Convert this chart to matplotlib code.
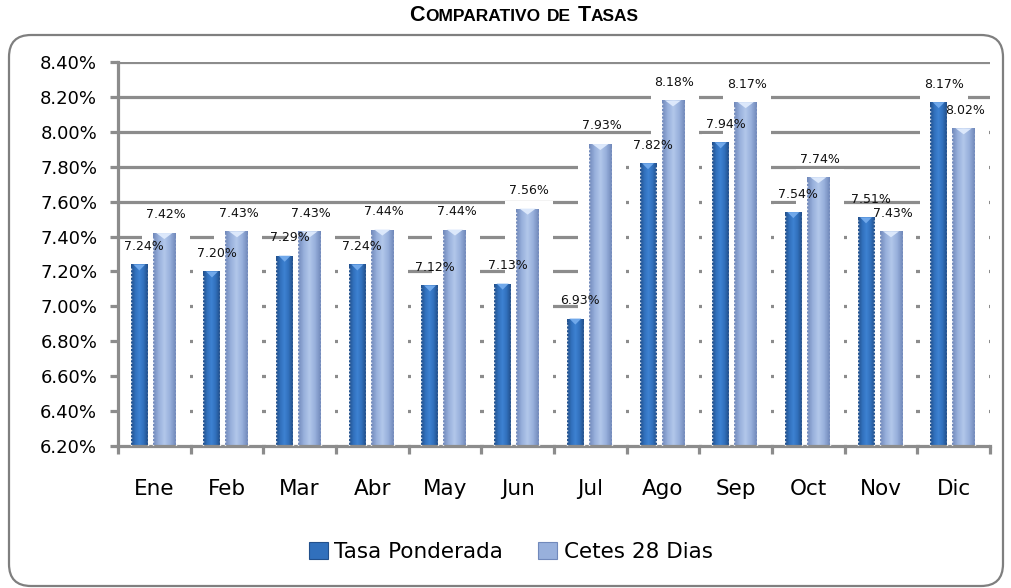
import matplotlib
matplotlib.use("Agg")
import matplotlib.pyplot as plt
import matplotlib.patches as mpatches
import matplotlib.transforms as mtransforms
from matplotlib.colors import LinearSegmentedColormap
import numpy as np

months = ["Ene", "Feb", "Mar", "Abr", "May", "Jun", "Jul", "Ago", "Sep", "Oct", "Nov", "Dic"]
tasa_ponderada = [7.24, 7.20, 7.29, 7.24, 7.12, 7.13, 6.93, 7.82, 7.94, 7.54, 7.51, 8.17]
cetes_28 = [7.42, 7.43, 7.43, 7.44, 7.44, 7.56, 7.93, 8.18, 8.17, 7.74, 7.43, 8.02]
series_names = ["Tasa Ponderada", "Cetes 28 Dias"]
yticks = [6.20, 6.40, 6.60, 6.80, 7.00, 7.20, 7.40, 7.60, 7.80, 8.00, 8.20, 8.40]

W, H, DPI = 1011, 588, 100
fig = plt.figure(figsize=(W / DPI, H / DPI), dpi=DPI)
plt.rcParams['font.family'] = ['DejaVu Sans']

ax_l, ax_r, ax_t, ax_b = 118, 990, 62, 446
ax = fig.add_axes([ax_l / W, 1 - ax_b / H, (ax_r - ax_l) / W, (ax_b - ax_t) / H])
ymin, ymax = 6.20, 8.40
n = len(months)
ax.set_xlim(-0.5, n - 0.5)
ax.set_ylim(ymin, ymax)

pxx = (ax_r - ax_l) / n           # pixels per category
pxy = (ax_b - ax_t) / (ymax - ymin)  # pixels per y unit

grid_col = "#8c8c8c"
ax.set_axisbelow(True)
ax.yaxis.grid(True, color=grid_col, linewidth=2.3, zorder=0)
ax.set_yticks(yticks)
ax.set_yticklabels([f"{v:.2f}%" for v in yticks], fontsize=13)
ax.tick_params(axis='y', length=6, width=2.3, color=grid_col, pad=9, direction='out')
ax.set_xticks(range(n))
ax.set_xticklabels(months, fontsize=15.5)
ax.tick_params(axis='x', which='major', length=0, pad=24)
ax.set_xticks(np.arange(-0.5, n, 1.0), minor=True)
ax.tick_params(axis='x', which='minor', length=6, width=2.3, color=grid_col, direction='out')
for s in ["top", "right"]:
    ax.spines[s].set_visible(False)
for s in ["left", "bottom"]:
    ax.spines[s].set_color(grid_col)
    ax.spines[s].set_linewidth(2.3)

# bar geometry (pixels relative to category centre)
dark_x0, dark_x1 = -23.5 / pxx, -6.5 / pxx
light_x0, light_x1 = -1.5 / pxx, 21.5 / pxx
dark_lab_dx = -10.0 / pxx
light_lab_dx = 11.5 / pxx
lab_w = 48 / pxx
white_top = 8 / pxy
cap_h = 6 / pxy

dark_cols = ["#22508c", "#3170bc", "#3e82d2", "#3170bc", "#22508c"]
light_cols = ["#7189bb", "#98b0dc", "#b2c7ea", "#98b0dc", "#7189bb"]
dark_cap = "#70a8ea"
light_cap = "#dce8fb"

def grad_img(cols, npts=40):
    cm = LinearSegmentedColormap.from_list("g", cols)
    return cm(np.linspace(0, 1, npts))[None, :, :3]

dimg = grad_img(dark_cols)
limg = grad_img(light_cols)

# white backing regions (hide grid lines behind bars and labels)
for i in range(n):
    for val, dx in ((tasa_ponderada[i], dark_lab_dx), (cetes_28[i], light_lab_dx)):
        ax.add_patch(mpatches.Rectangle((i + dx - lab_w / 2, ymin), lab_w, val + white_top - ymin,
                                        facecolor="white", edgecolor="none", zorder=1))

def draw_bar(xc, x0, x1, val, img, capcol):
    rect = mpatches.Rectangle((xc + x0, ymin), x1 - x0, val - ymin, facecolor="none",
                              edgecolor="none", zorder=2)
    ax.add_patch(rect)
    im = ax.imshow(img, extent=(xc + x0, xc + x1, ymin, val), aspect='auto', zorder=2,
                   interpolation='bilinear')
    im.set_clip_path(rect)
    tri = mpatches.Polygon([(xc + x0 + (x1 - x0) * 0.15, val), (xc + x1 - (x1 - x0) * 0.15, val),
                            (xc + (x0 + x1) / 2, val - cap_h)], closed=True,
                           facecolor=capcol, edgecolor="none", zorder=3)
    ax.add_patch(tri)
    for xe in (xc + x0, xc + x1):
        ax.plot([xe, xe], [ymin, val - cap_h * 0.5], color="white", lw=1.0,
                linestyle=(0, (1.2, 1.5)), zorder=3, alpha=0.8)

for i in range(n):
    draw_bar(i, dark_x0, dark_x1, tasa_ponderada[i], dimg, dark_cap)
    draw_bar(i, light_x0, light_x1, cetes_28[i], limg, light_cap)
    ax.annotate(f"{tasa_ponderada[i]:.2f}%", (i + dark_lab_dx, tasa_ponderada[i]),
                xytext=(0, 13), textcoords="offset points", ha="center", va="center",
                fontsize=9, color="#111111", zorder=4)
    ax.annotate(f"{cetes_28[i]:.2f}%", (i + light_lab_dx, cetes_28[i]),
                xytext=(0, 13), textcoords="offset points", ha="center", va="center",
                fontsize=9, color="#111111", zorder=4)

ax.set_xlim(-0.5, n - 0.5)
ax.set_ylim(ymin, ymax)

# legend
h1 = mpatches.Patch(facecolor="#3170bc", edgecolor="#22508c", linewidth=0.8)
h2 = mpatches.Patch(facecolor="#98b0dc", edgecolor="#7189bb", linewidth=0.8)
fig.legend([h1, h2], series_names, loc="center", bbox_to_anchor=(0.505, 1 - 552 / H),
           ncol=2, frameon=False, fontsize=15.5, handlelength=0.9, handleheight=0.85,
           handletextpad=0.3, columnspacing=1.6)

# rounded outer frame (pixel coordinates)
frame = mpatches.FancyBboxPatch((9, 2), 994, 551, boxstyle="round,pad=0,rounding_size=22",
                                transform=mtransforms.IdentityTransform(), facecolor="none",
                                edgecolor="#7f7f7f", linewidth=1.6, zorder=10)
fig.add_artist(frame)

# small-caps title
renderer = fig.canvas.get_renderer()
big, small = 15.5, 12.5
pieces = [("C", big), ("OMPARATIVO", small), (" ", small), ("DE", small), (" ", small),
          ("T", big), ("ASAS", small)]
texts = []
widths = []
for s, fs in pieces:
    if not s.strip():
        widths.append(6.5)
        texts.append(None)
        continue
    t = fig.text(0, 0, s, fontsize=fs, fontweight="bold",
                 family=["Liberation Sans", "DejaVu Sans"], va="baseline", ha="left",
                 transform=mtransforms.IdentityTransform())
    widths.append(t.get_window_extent(renderer).width)
    texts.append(t)
total = sum(widths)
xpos = 524 - total / 2
base_y = H - 21
for t, w in zip(texts, widths):
    if t is not None:
        t.set_position((xpos, base_y))
    xpos += w

fig.savefig("out.png", dpi=DPI)
